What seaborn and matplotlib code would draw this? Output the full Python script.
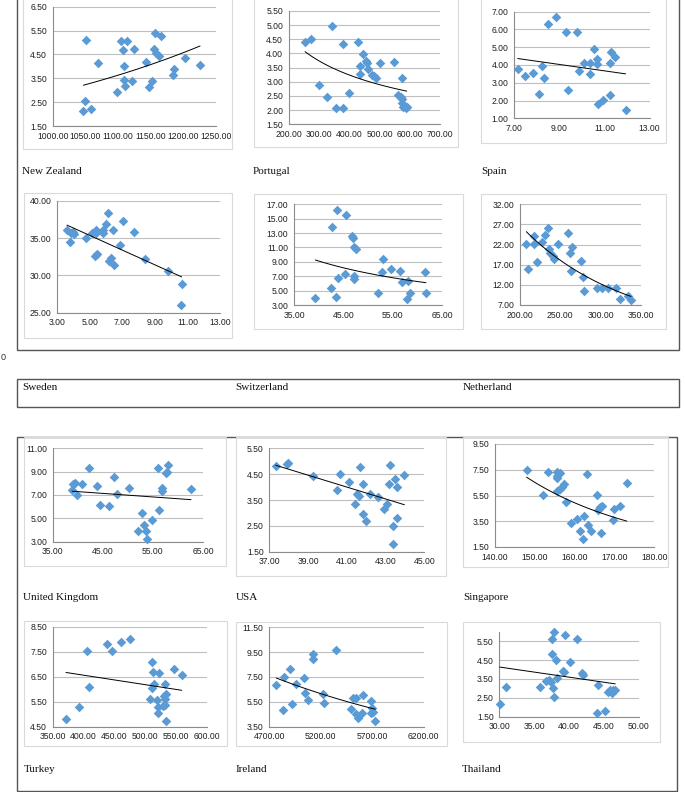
import numpy as np
import matplotlib
matplotlib.use("Agg")
import matplotlib.pyplot as plt
import matplotlib.patches as mpatches
import seaborn as sns

W, H = 685, 792

# values
nz_x = [1051, 1047, 1050, 1059, 1069, 1099, 1104, 1108, 1109, 1110, 1111, 1114, 1122,
        1124, 1143, 1147, 1152, 1157, 1156, 1159, 1163, 1166, 1185, 1186, 1203, 1226]
nz_y = [5.09, 2.13, 2.56, 2.20, 4.14, 2.92, 5.08, 4.68, 4.01, 3.43, 3.18, 5.05, 3.39,
        4.74, 4.17, 3.15, 3.37, 5.38, 4.73, 4.57, 4.45, 5.27, 3.62, 3.87, 4.36, 4.07]
nz_xticks = [1000, 1050, 1100, 1150, 1200, 1250]
nz_yticks = [1.5, 2.5, 3.5, 4.5, 5.5, 6.5]

pt_x = [254, 273, 342, 300, 326, 355, 381, 378, 399, 430, 444, 436, 434, 455, 459,
        463, 476, 482, 487, 501, 549, 573, 562, 570, 575, 574, 578, 586, 590]
pt_y = [4.41, 4.50, 4.96, 2.89, 2.48, 2.06, 2.07, 4.35, 2.61, 4.42, 3.99, 3.57, 3.28, 3.74, 3.65,
        3.45, 3.25, 3.19, 3.14, 3.65, 3.71, 3.14, 2.55, 2.45, 2.38, 2.24, 2.10, 2.09, 2.10]
pt_xticks = [200, 300, 400, 500, 600, 700]
pt_yticks = [1.5, 2.0, 2.5, 3.0, 3.5, 4.0, 4.5, 5.0, 5.5]

es_x = [7.15, 7.46, 7.81, 8.08, 8.23, 8.31, 8.48, 8.85, 9.29, 9.38, 9.78, 9.87, 10.07,
        10.34, 10.34, 10.53, 10.65, 10.68, 10.71, 10.94, 11.22, 11.22, 11.30, 11.48, 11.93]
es_y = [3.76, 3.38, 3.53, 2.35, 3.95, 3.29, 6.31, 6.68, 5.88, 2.60, 5.88, 3.68, 4.13,
        4.13, 3.50, 4.92, 4.36, 4.06, 1.79, 2.03, 2.31, 4.11, 4.75, 4.47, 1.47]
es_xticks = [7, 9, 11, 13]
es_yticks = [1, 2, 3, 4, 5, 6, 7]

se_x = [3.59, 3.76, 3.84, 4.00, 3.98, 4.76, 5.13, 5.35, 5.39, 5.29, 5.44, 5.80, 5.82,
        5.97, 6.13, 6.15, 6.27, 6.44, 6.46, 6.84, 7.03, 7.72, 8.36, 9.81, 10.63, 10.59]
se_y = [36.07, 34.46, 35.63, 35.49, 35.85, 35.04, 35.63, 36.03, 35.71, 32.54, 32.90, 36.03, 35.63,
        36.92, 38.39, 31.92, 32.37, 36.07, 31.43, 34.11, 37.23, 35.76, 32.14, 30.58, 28.88, 25.98]
se_xticks = [3, 5, 7, 9, 11, 13]
se_yticks = [25, 30, 35, 40]

ch_x = [39.3, 42.4, 42.7, 43.5, 43.6, 43.8, 45.3, 45.5, 46.7, 46.9, 47.1, 47.2, 47.2,
        47.5, 52.0, 52.8, 53.0, 54.6, 56.4, 56.8, 58.1, 57.8, 58.5, 61.4, 61.7]
ch_y = [3.97, 5.32, 13.89, 4.07, 16.17, 6.76, 7.36, 15.52, 12.55, 12.36, 7.08, 6.62, 11.07,
        10.79, 4.67, 7.55, 9.44, 8.01, 7.68, 6.15, 6.38, 3.88, 4.62, 7.59, 4.62]
ch_xticks = [35, 45, 55, 65]
ch_yticks = [3, 5, 7, 9, 11, 13, 15, 17]

nl_x = [208.2, 210.7, 217.3, 217.7, 221.8, 227.6, 231.7, 235.0, 235.8, 237.9, 240.8, 242.8, 247.0, 260.2,
        261.8, 264.3, 263.5, 275.9, 278.3, 280.0, 296.0, 301.8, 309.6, 319.1, 324.4, 334.3, 337.6]
nl_y = [22.23, 16.02, 24.20, 22.23, 17.68, 22.65, 24.47, 26.04, 20.82, 19.90, 19.16, 18.50, 22.15, 24.80,
        19.90, 21.40, 15.50, 17.90, 13.87, 10.48, 11.14, 11.31, 11.31, 11.31, 8.57, 9.32, 8.32]
nl_xticks = [200, 250, 300, 350]
nl_yticks = [7, 12, 17, 22, 27, 32]

uk_x = [38.86, 39.06, 39.39, 39.79, 40.92, 42.32, 43.85, 44.38, 46.24, 47.31, 47.84, 50.17, 52.10,
        52.83, 53.16, 53.56, 53.90, 54.76, 56.09, 56.29, 56.76, 56.89, 57.56, 57.76, 57.96, 62.61]
uk_y = [7.43, 7.91, 8.06, 6.97, 7.97, 9.31, 7.77, 6.14, 6.09, 8.54, 7.06, 7.63, 3.94,
        5.43, 4.46, 3.94, 3.20, 4.86, 9.31, 5.69, 7.57, 7.31, 8.89, 8.94, 9.60, 7.54]
uk_xticks = [35, 45, 55, 65]
uk_yticks = [3, 5, 7, 9, 11]

us_x = [37.33, 37.90, 37.96, 39.24, 40.48, 40.65, 41.11, 41.44, 41.53, 41.65, 41.67, 41.83, 41.85,
        41.98, 42.20, 42.63, 42.90, 43.08, 43.16, 43.23, 43.37, 43.38, 43.49, 43.57, 43.61, 43.97]
us_y = [4.82, 4.88, 4.95, 4.43, 3.89, 4.49, 4.21, 3.35, 3.74, 3.65, 4.76, 4.13, 2.94,
        2.67, 3.72, 3.61, 3.16, 3.35, 4.13, 4.84, 2.49, 1.80, 4.32, 2.82, 4.00, 4.45]
us_xticks = [37, 39, 41, 43, 45]
us_yticks = [1.5, 2.5, 3.5, 4.5, 5.5]

sg_x = [148.0, 152.0, 153.3, 155.5, 155.7, 155.6, 156.3, 155.7, 156.4, 156.8, 157.3, 157.8, 159.1, 160.6, 161.3,
        162.2, 162.5, 163.2, 163.4, 164.1, 165.6, 165.9, 166.4, 166.6, 166.9, 169.7, 169.9, 171.5, 173.1]
sg_y = [7.45, 5.56, 7.32, 7.29, 6.98, 6.87, 7.21, 5.84, 5.97, 6.15, 6.37, 5.02, 3.38, 3.64, 2.74,
        2.12, 3.90, 7.19, 3.19, 2.77, 5.53, 4.37, 4.58, 2.56, 4.71, 3.57, 4.47, 4.68, 6.45]
sg_xticks = [140, 150, 160, 170, 180]
sg_yticks = [1.5, 3.5, 5.5, 7.5, 9.5]

tr_x = [371.6, 393.3, 406.3, 408.4, 438.7, 446.8, 461.5, 476.1, 507.5, 510.7, 511.8, 513.4, 514.5,
        519.9, 521.5, 521.0, 523.2, 529.7, 530.7, 531.8, 533.4, 532.9, 532.9, 534.5, 546.4, 559.4]
tr_y = [4.81, 5.30, 7.54, 6.10, 7.79, 7.54, 7.90, 8.02, 5.62, 6.03, 7.07, 6.70, 6.20,
        5.57, 5.27, 5.03, 6.66, 5.33, 5.71, 6.19, 5.81, 5.59, 5.36, 4.71, 6.79, 6.55]
tr_xticks = [350, 400, 450, 500, 550, 600]
tr_yticks = [4.5, 5.5, 6.5, 7.5, 8.5]

ie_x = [4768, 4833, 4839, 4904, 4920, 4956, 5040, 5050, 5079, 5121, 5127, 5225, 5231,
        5351, 5494, 5510, 5543, 5546, 5562, 5604, 5610, 5688, 5701, 5685, 5711, 5730]
ie_y = [6.83, 4.87, 7.53, 8.12, 5.30, 6.94, 7.39, 6.19, 5.62, 9.33, 8.98, 6.16, 5.44,
        9.68, 4.95, 5.78, 5.78, 4.52, 4.20, 4.60, 6.03, 5.54, 5.03, 4.63, 4.68, 3.98]
ie_xticks = [4700, 5200, 5700, 6200]
ie_yticks = [3.5, 5.5, 7.5, 9.5, 11.5]

th_x = [30.05, 31.0, 35.8, 36.7, 37.1, 37.4, 37.5, 37.6, 37.9, 37.7, 37.9, 38.1, 38.2, 39.1,
        39.2, 39.4, 40.1, 41.1, 41.8, 42.0, 44.0, 44.1, 45.1, 45.5, 45.8, 46.2, 46.6, 46.3]
th_y = [2.17, 3.09, 3.09, 3.39, 3.44, 3.33, 4.83, 5.59, 5.96, 3.02, 2.52, 4.48, 3.56, 3.93,
        3.88, 5.83, 4.37, 5.62, 3.79, 3.69, 1.71, 3.19, 1.80, 2.80, 2.91, 2.77, 2.94, 2.94]
th_xticks = [30, 35, 40, 45, 50]
th_yticks = [1.5, 2.5, 3.5, 4.5, 5.5]

BLUE = "#5B9BD5"
GRID = "#BFBFBF"
AXIS = "#8C8C8C"

sns.set_style("white")
plt.rcParams["font.family"] = ["Liberation Sans", "DejaVu Sans"]


def to_fig(l, t, r, b):
    return [l / W, 1 - b / H, (r - l) / W, (b - t) / H]


def trend(x, y, kind):
    x = np.asarray(x, float)
    y = np.asarray(y, float)
    xs = np.linspace(x.min(), x.max(), 80)
    if kind == "exp":
        k, c = np.polyfit(x, np.log(y), 1)
        return xs, np.exp(c + k * xs)
    if kind == "pow":
        k, c = np.polyfit(np.log(x), np.log(y), 1)
        return xs, np.exp(c) * xs ** k
    k, c = np.polyfit(x, y, 1)
    return xs, k * xs + c


def draw_panel(fig, rect, x, y, xticks, yticks, kind, ytop=None):
    ax = fig.add_axes(to_fig(*rect))
    ax.patch.set_alpha(0)
    sns.scatterplot(x=x, y=y, marker="D", s=24, color=BLUE, linewidth=0, ax=ax,
                    zorder=3, clip_on=False)
    xs, ys = trend(x, y, kind)
    ax.plot(xs, ys, color="black", lw=0.7, zorder=4)
    ax.set_xlim(xticks[0], xticks[-1])
    ax.set_ylim(yticks[0], ytop if ytop else yticks[-1])
    ax.set_xticks(xticks)
    ax.set_yticks(yticks)
    ax.set_xticklabels([f"{v:.2f}" for v in xticks])
    ax.set_yticklabels([f"{v:.2f}" for v in yticks])
    ax.yaxis.grid(True, color=GRID, lw=0.8)
    ax.xaxis.grid(False)
    ax.set_axisbelow(True)
    for s in ("top", "right"):
        ax.spines[s].set_visible(False)
    for s in ("left", "bottom"):
        ax.spines[s].set_color(AXIS)
        ax.spines[s].set_linewidth(0.8)
    ax.tick_params(axis="both", direction="out", length=2.5, width=0.6, color=AXIS,
                   labelsize=6.2, pad=1.5, labelcolor="#202020")
    ax.set_xlabel("")
    ax.set_ylabel("")
    return ax


fig = plt.figure(figsize=(W / 100, H / 100), dpi=100)

# background layer for frames, chart boxes and country names (pixel coordinates)
bg = fig.add_axes([0, 0, 1, 1])
bg.set_xlim(0, W)
bg.set_ylim(H, 0)
bg.axis("off")


def box(l, t, r, b, color="#DADADA", lw=0.8):
    bg.add_patch(mpatches.Rectangle((l, t), r - l, b - t, fill=False, ec=color, lw=lw))


# outer frames
box(17, -3, 679, 350, color="#555555", lw=1.0)
box(17, 379, 679, 407, color="#555555", lw=1.0)
box(17, 437, 677, 791, color="#555555", lw=1.0)
bg.text(0.5, 357, "0", fontsize=6.5, va="center", ha="left", color="#333333")

panels = [
    # chart box, plot area, data, ticks, trend, label position, label
    ((23, -3, 232, 149), (52.7, 6.7, 215.7, 126), nz_x, nz_y, nz_xticks, nz_yticks, "exp", (22, 172), "New Zealand", None),
    ((254, -3, 458, 147), (288.7, 11, 440, 124.3), pt_x, pt_y, pt_xticks, pt_yticks, "pow", (253, 172), "Portugal", None),
    ((481, -3, 666, 143), (514.3, 11.7, 649.7, 118.3), es_x, es_y, es_xticks, es_yticks, "lin", (481, 172), "Spain", None),
    ((24, 193, 232, 338), (57.3, 200.7, 220.3, 312.7), se_x, se_y, se_xticks, se_yticks, "lin", (22, 388), "Sweden", None),
    ((254, 194, 463, 329), (294, 204.3, 442.3, 305), ch_x, ch_y, ch_xticks, ch_yticks, "pow", (235, 388), "Switzerland", None),
    ((481, 194, 666, 329), (519.7, 204.3, 641, 305), nl_x, nl_y, nl_xticks, nl_yticks, "exp", (463, 388), "Netherland", None),
    ((24, 437, 226, 566), (52.7, 448.3, 203, 541.7), uk_x, uk_y, uk_xticks, uk_yticks, "lin", (23, 598), "United Kingdom", None),
    ((236, 437, 446, 576), (269.3, 448.3, 424.3, 551.7), us_x, us_y, us_xticks, us_yticks, "lin", (236, 598), "USA", None),
    ((463, 437, 668, 567), (494.7, 444, 654.3, 547), sg_x, sg_y, sg_xticks, sg_yticks, "pow", (463, 598), "Singapore", None),
    ((24, 621, 227, 746), (52.7, 626.7, 206.7, 726.7), tr_x, tr_y, tr_xticks, tr_yticks, "lin", (24, 769), "Turkey", None),
    ((236, 622, 447, 746), (269.3, 627.3, 423.7, 726.7), ie_x, ie_y, ie_xticks, ie_yticks, "exp", (236, 769), "Ireland", None),
    ((463, 622, 660, 742), (499.3, 631.7, 639, 716.7), th_x, th_y, th_xticks, th_yticks, "lin", (462, 769), "Thailand", 6.0),
]

for cbox, rect, x, y, xt, yt, kind, lpos, label, ytop in panels:
    box(*cbox)
    bg.text(lpos[0], lpos[1], label, fontsize=8, family=["Liberation Serif", "DejaVu Serif"],
            va="center", ha="left", color="#111111")
    draw_panel(fig, rect, x, y, xt, yt, kind, ytop)

fig.savefig("out.png", dpi=100)
